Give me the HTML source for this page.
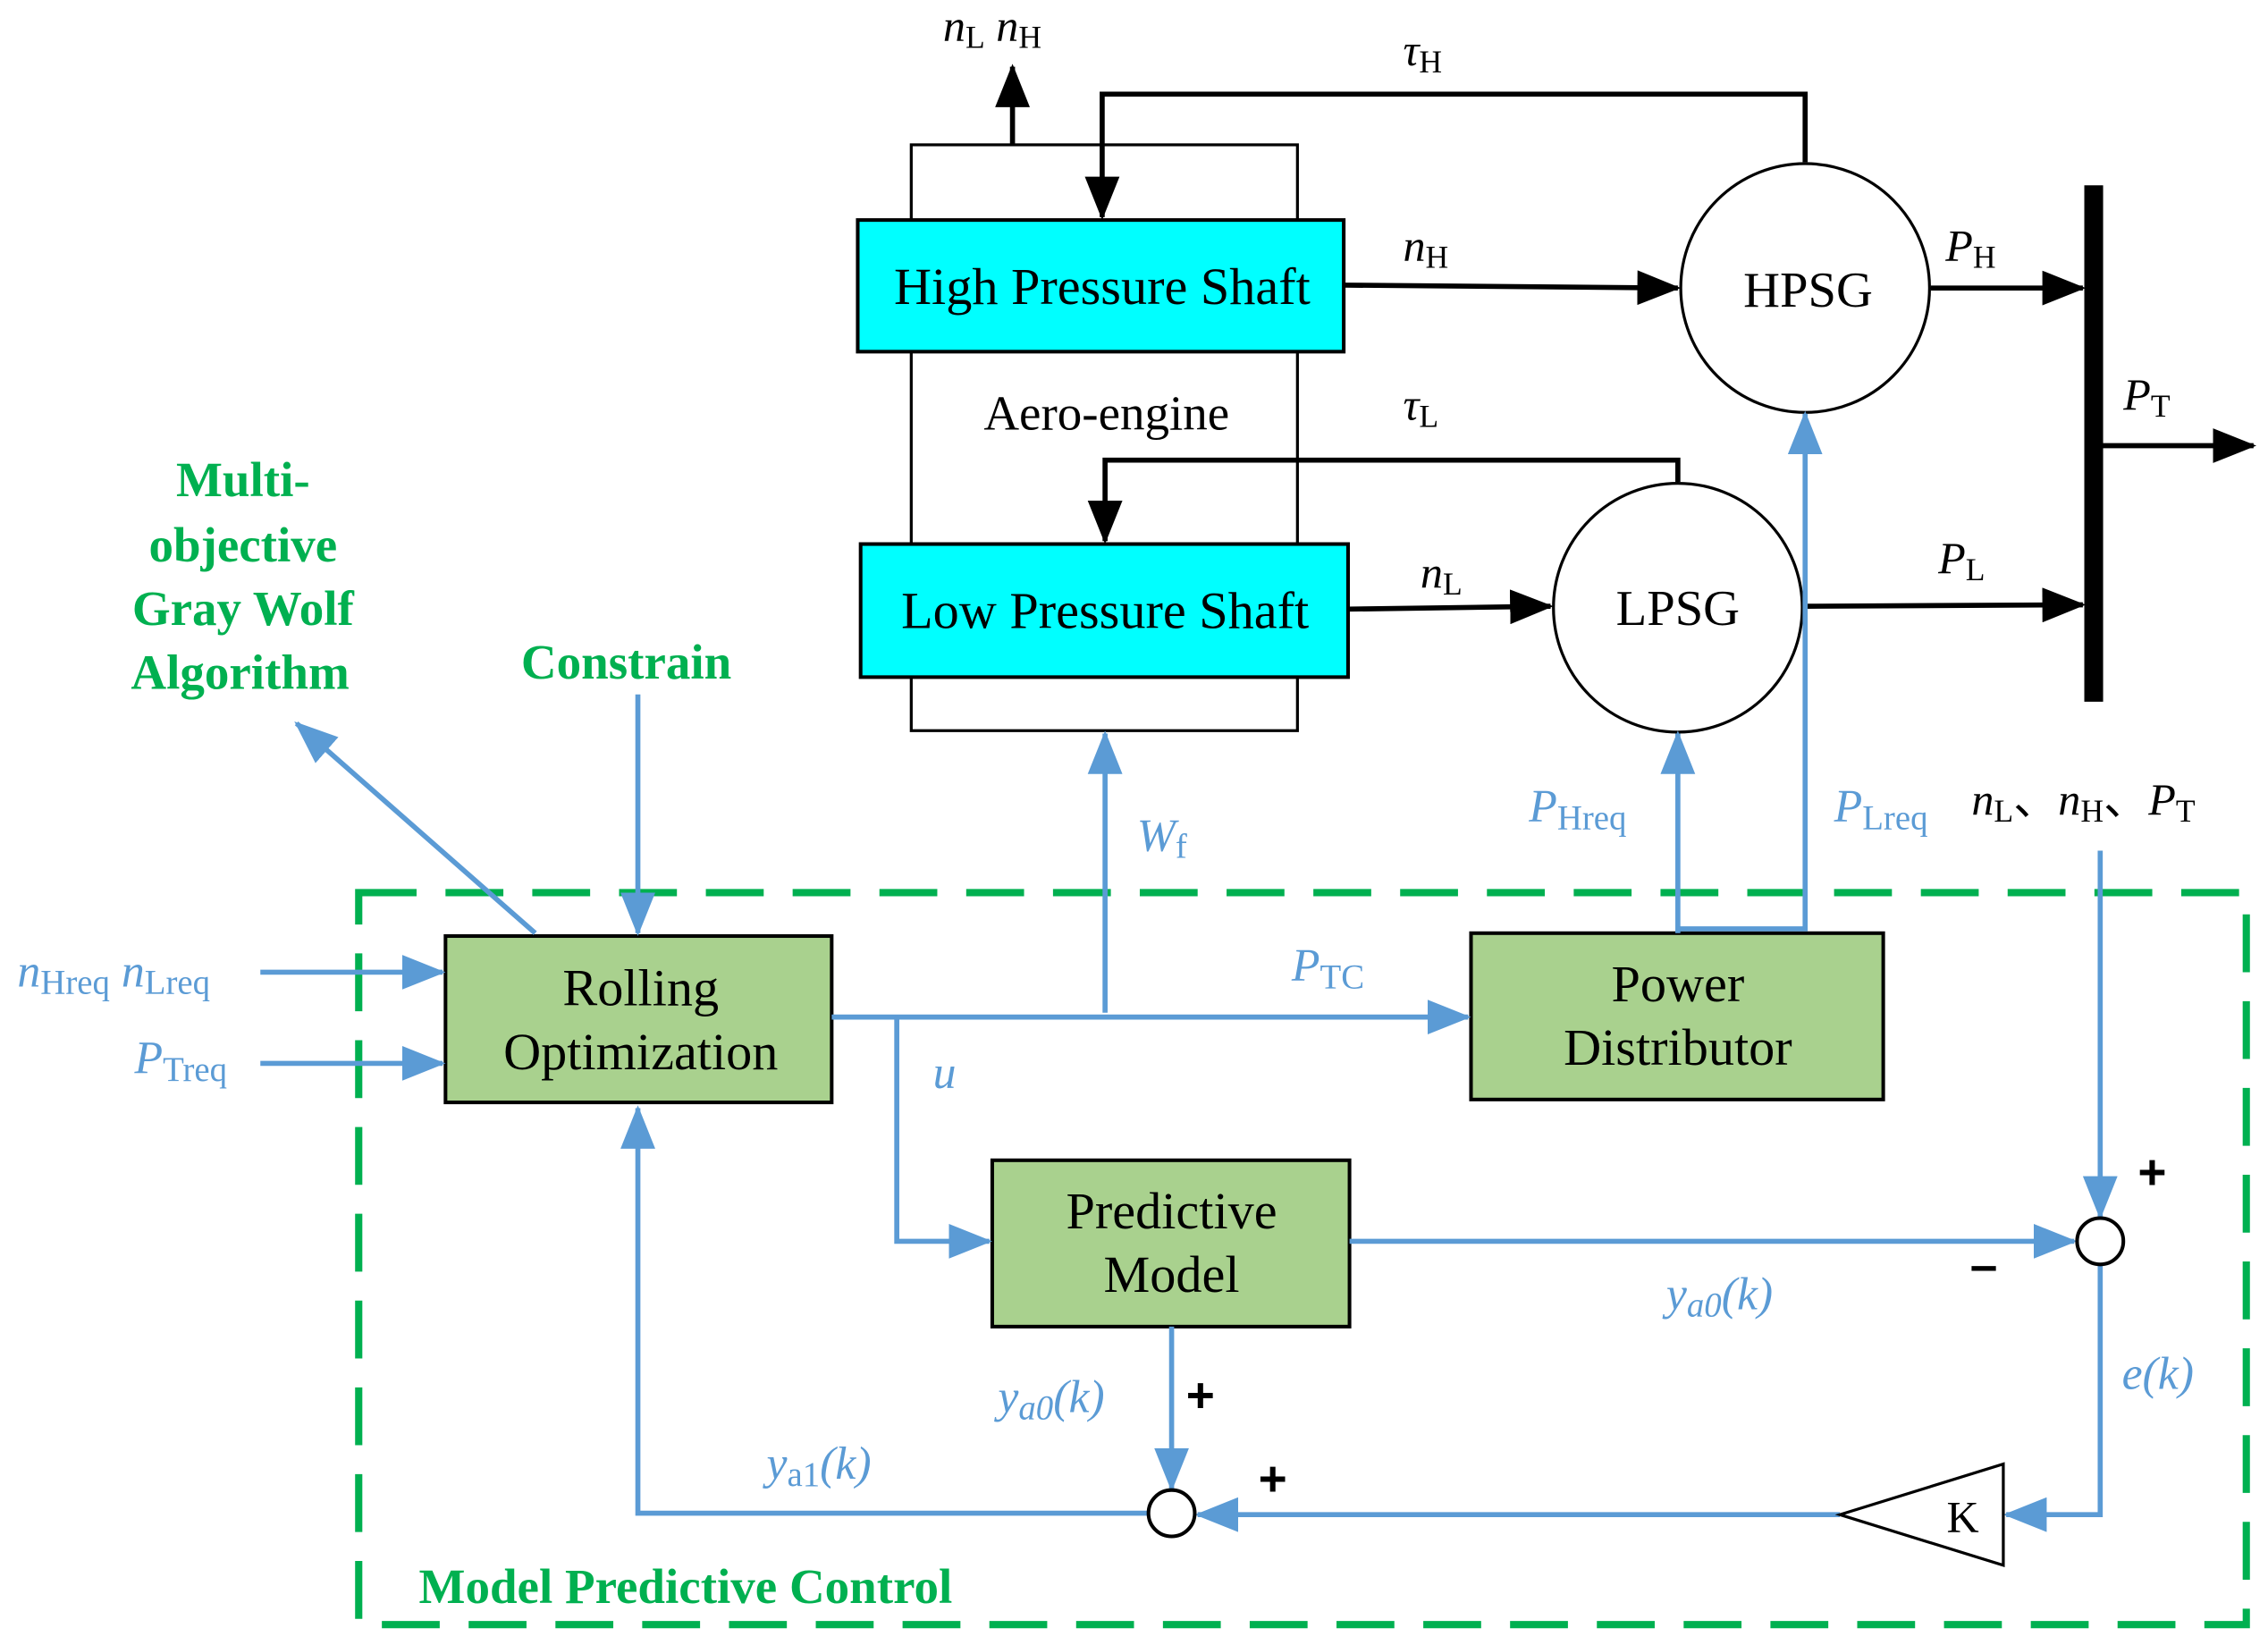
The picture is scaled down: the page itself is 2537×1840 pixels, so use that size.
<!DOCTYPE html>
<html><head><meta charset="utf-8"><style>html,body{margin:0;padding:0;background:#fff}svg{display:block}</style></head>
<body>
<svg width="2537" height="1840" viewBox="0 0 1568 1137" xmlns="http://www.w3.org/2000/svg" font-family="Liberation Serif, serif">
<defs>
<marker id="ab2" markerWidth="30" markerHeight="24" refX="28" refY="12" orient="auto" markerUnits="userSpaceOnUse"><path d="M0,0 L30,12 L0,24 Z" fill="#000"/></marker>
<marker id="bb" markerWidth="30" markerHeight="24" refX="28" refY="12" orient="auto" markerUnits="userSpaceOnUse"><path d="M0,0 L30,12 L0,24 Z" fill="#5b9bd5"/></marker>
</defs>
<rect x="630" y="100" width="267" height="405" fill="none" stroke="#000" stroke-width="2"/>
<rect x="593" y="152" width="336" height="91" fill="#00ffff" stroke="#000" stroke-width="2.5"/>
<rect x="595" y="376" width="337" height="92" fill="#00ffff" stroke="#000" stroke-width="2.5"/>
<g font-size="36" text-anchor="middle">
<text x="762" y="210">High Pressure Shaft</text>
<text x="764" y="434">Low Pressure Shaft</text>
<text x="765" y="297" font-size="34">Aero-engine</text>
</g>
<g stroke="#000" stroke-width="3.5" fill="none">
<line x1="700" y1="100" x2="700" y2="46" marker-end="url(#ab2)"/>
<polyline points="1248,112 1248,65 762,65 762,150" marker-end="url(#ab2)"/>
<line x1="929" y1="197" x2="1160" y2="199" marker-end="url(#ab2)"/>
<line x1="1335" y1="199" x2="1440" y2="199" marker-end="url(#ab2)"/>
<line x1="1447" y1="308" x2="1558" y2="308" marker-end="url(#ab2)"/>
<polyline points="1160,333 1160,318 764,318 764,374" marker-end="url(#ab2)"/>
<line x1="932" y1="421" x2="1072" y2="419" marker-end="url(#ab2)"/>
<line x1="1247" y1="419" x2="1440" y2="418" marker-end="url(#ab2)"/>
</g>
<rect x="1441" y="128" width="13" height="357" fill="#000"/>
<circle cx="1248" cy="199" r="86" fill="#fff" stroke="#000" stroke-width="2"/>
<circle cx="1160" cy="420" r="86" fill="#fff" stroke="#000" stroke-width="2"/>
<text x="1250" y="212" font-size="35" text-anchor="middle">HPSG</text>
<text x="1160" y="432" font-size="35" text-anchor="middle">LPSG</text>
<g font-size="31" font-style="italic">
<text x="652" y="28">n<tspan font-size="22" font-style="normal" dy="5">L</tspan><tspan dy="-5"> n</tspan><tspan font-size="22" font-style="normal" dy="5">H</tspan></text>
<text x="970" y="45">τ<tspan font-size="22" font-style="normal" dy="5">H</tspan></text>
<text x="970" y="180">n<tspan font-size="22" font-style="normal" dy="5">H</tspan></text>
<text x="1345" y="180">P<tspan font-size="22" font-style="normal" dy="5">H</tspan></text>
<text x="1468" y="283">P<tspan font-size="22" font-style="normal" dy="5">T</tspan></text>
<text x="970" y="290">τ<tspan font-size="22" font-style="normal" dy="5">L</tspan></text>
<text x="982" y="406">n<tspan font-size="22" font-style="normal" dy="5">L</tspan></text>
<text x="1340" y="396">P<tspan font-size="22" font-style="normal" dy="5">L</tspan></text>
<text x="1363" y="563">n<tspan font-size="22" font-style="normal" dy="5">L</tspan><tspan dy="-5" font-style="normal">、</tspan><tspan>n</tspan><tspan font-size="22" font-style="normal" dy="5">H</tspan><tspan dy="-5" font-style="normal">、</tspan><tspan>P</tspan><tspan font-size="22" font-style="normal" dy="5">T</tspan></text>
</g>
<rect x="248" y="617" width="1305" height="506" fill="none" stroke="#00b050" stroke-width="5" stroke-dasharray="40,20"/>
<g fill="#a9d18e" stroke="#000" stroke-width="2.5">
<rect x="308" y="647" width="267" height="115"/>
<rect x="1017" y="645" width="285" height="115"/>
<rect x="686" y="802" width="247" height="115"/>
</g>
<g font-size="36" text-anchor="middle">
<text x="443" y="695">Rolling</text><text x="443" y="739">Optimization</text>
<text x="1160" y="692">Power</text><text x="1160" y="736">Distributor</text>
<text x="810" y="849">Predictive</text><text x="810" y="893">Model</text>
</g>
<g fill="#00b050" font-weight="bold" font-size="34" text-anchor="middle">
<text x="168" y="343">Multi-</text><text x="168" y="388">objective</text><text x="168" y="432">Gray Wolf</text><text x="166" y="476">Algorithm</text>
<text x="433" y="469">Constrain</text>
<text x="474" y="1108">Model Predictive Control</text>
</g>
<g stroke="#5b9bd5" stroke-width="3.5" fill="none">
<line x1="764" y1="700" x2="764" y2="507" marker-end="url(#bb)"/>
<polyline points="1160,645 1160,507" marker-end="url(#bb)"/>
<polyline points="1160,642 1248,642 1248,286" marker-end="url(#bb)"/>
<line x1="370" y1="645" x2="205" y2="500" marker-end="url(#bb)"/>
<line x1="441" y1="480" x2="441" y2="645" marker-end="url(#bb)"/>
<line x1="180" y1="672" x2="306" y2="672" marker-end="url(#bb)"/>
<line x1="180" y1="735" x2="306" y2="735" marker-end="url(#bb)"/>
<line x1="575" y1="703" x2="1015" y2="703" marker-end="url(#bb)"/>
<polyline points="620,703 620,858 684,858" marker-end="url(#bb)"/>
<line x1="933" y1="858" x2="1434" y2="858" marker-end="url(#bb)"/>
<line x1="1452" y1="588" x2="1452" y2="841" marker-end="url(#bb)"/>
<polyline points="1452,875 1452,1047 1387,1047" marker-end="url(#bb)"/>
<line x1="1272" y1="1047" x2="828" y2="1047" marker-end="url(#bb)"/>
<line x1="810" y1="917" x2="810" y2="1029" marker-end="url(#bb)"/>
<polyline points="794,1046 441,1046 441,766" marker-end="url(#bb)"/>
</g>
<circle cx="1452" cy="858" r="16" fill="#fff" stroke="#000" stroke-width="2.5"/>
<circle cx="810" cy="1046" r="16" fill="#fff" stroke="#000" stroke-width="2.5"/>
<polygon points="1385,1012 1385,1082 1272,1047" fill="#fff" stroke="#000" stroke-width="2"/>
<text x="1357" y="1059" font-size="31" text-anchor="middle">K</text>
<g font-weight="bold" font-size="34" font-family="Liberation Sans, sans-serif">
<text x="1478" y="822">+</text><text x="1362" y="886">–</text>
<text x="820" y="976">+</text><text x="870" y="1034">+</text>
</g>
<g fill="#5b9bd5" font-size="32" font-style="italic">
<text x="786" y="588">W<tspan font-size="24" font-style="normal" dy="5">f</tspan></text>
<text x="1057" y="568">P<tspan font-size="24" font-style="normal" dy="5">Hreq</tspan></text>
<text x="1268" y="568">P<tspan font-size="24" font-style="normal" dy="5">Lreq</tspan></text>
<text x="12" y="682">n<tspan font-size="24" font-style="normal" dy="5">Hreq</tspan><tspan dy="-5"> n</tspan><tspan font-size="24" font-style="normal" dy="5">Lreq</tspan></text>
<text x="93" y="742">P<tspan font-size="24" font-style="normal" dy="5">Treq</tspan></text>
<text x="893" y="678">P<tspan font-size="24" font-style="normal" dy="5">TC</tspan></text>
<text x="645" y="752">u</text>
<text x="1152" y="905">y<tspan font-size="24" dy="5">a0</tspan><tspan dy="-5">(k)</tspan></text>
<text x="1467" y="960">e(k)</text>
<text x="690" y="976">y<tspan font-size="24" dy="5">a0</tspan><tspan dy="-5">(k)</tspan></text>
<text x="530" y="1022">y<tspan font-size="24" font-style="normal" dy="5">a1</tspan><tspan dy="-5">(k)</tspan></text>
</g>
</svg>
</body></html>
